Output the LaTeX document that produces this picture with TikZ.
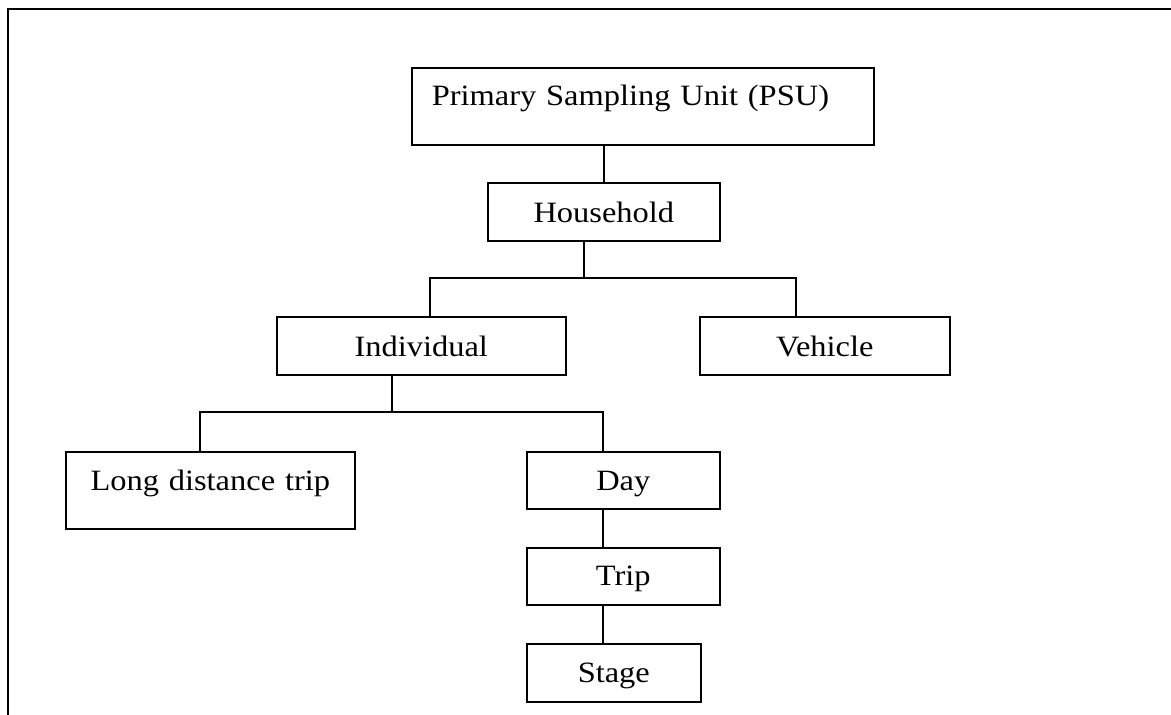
\documentclass[tikz,border=0pt]{standalone}
\usepackage{fontspec}
\setmainfont[FakeStretch=1.1]{Liberation Serif}
\begin{document}
\begin{tikzpicture}[x=1pt,y=-1pt,
  box/.style={draw=black,line width=1.6pt,anchor=north west,inner xsep=0pt,inner ysep=0pt,
    font=\fontsize{29.5}{34}\selectfont,align=center},
  link/.style={draw=black,line width=1.6pt},
  frame/.style={draw=black,line width=2.2pt}]
\useasboundingbox (0,0) rectangle (1171,715);
\draw[frame] (8,715) -- (8,9) -- (1171,9);
% boxes: text width = width, text height = baseline - top, text depth = bottom - baseline
\node[box,align=left,inner xsep=20pt,text width=422pt,text height=38pt,text depth=39pt] (psu) at (411,67) {Primary Sampling Unit (PSU)};
\node[box,text width=232pt,text height=40pt,text depth=18pt] (hh) at (487,182) {Household};
\node[box,text width=289pt,text height=40pt,text depth=18pt] (ind) at (276,316) {Individual};
\node[box,text width=250pt,text height=40pt,text depth=18pt] (veh) at (699,316) {Vehicle};
\node[box,text width=289pt,text height=39pt,text depth=38pt] (ldt) at (65,451) {Long distance trip};
\node[box,text width=193pt,text height=39pt,text depth=18pt] (day) at (526,451) {Day};
\node[box,text width=193pt,text height=38pt,text depth=19pt] (trip) at (526,547) {Trip};
\node[box,text width=174pt,text height=39pt,text depth=19pt] (stage) at (526,643) {Stage};
% junctions
\coordinate (j1) at (584,278);
\coordinate (pi) at (430,278);
\coordinate (pv) at (796,278);
\coordinate (j2) at (392,412);
\coordinate (pl) at (200,412);
\coordinate (pd) at (603,412);
% connectors
\draw[link] (hh.north |- psu.south) -- (hh.north);
\draw[link] (j1 |- hh.south) -- (j1);
\draw[link] (pi |- ind.north) -- (pi) -- (pv) -- (pv |- veh.north);
\draw[link] (j2 |- ind.south) -- (j2);
\draw[link] (pl |- ldt.north) -- (pl) -- (pd) -- (pd |- day.north);
\draw[link] (pd |- day.south) -- (pd |- trip.north);
\draw[link] (pd |- trip.south) -- (pd |- stage.north);
\end{tikzpicture}
\end{document}
